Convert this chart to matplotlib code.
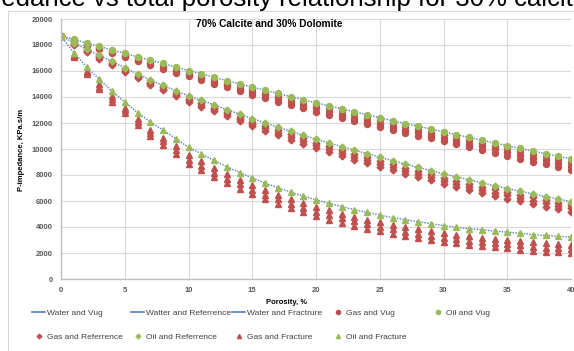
import matplotlib
matplotlib.use("Agg")
import matplotlib.pyplot as plt
from matplotlib.lines import Line2D

porosity = list(range(0, 41))

water_vug = [18700, 18440, 18150, 17900, 17620, 17360, 17090, 16840, 16580, 16300,
             16030, 15780, 15520, 15260, 15010, 14770, 14520, 14270, 14030, 13790,
             13560, 13320, 13100, 12860, 12640, 12400, 12180, 11960, 11750, 11540,
             11330, 11110, 10890, 10680, 10460, 10260, 10040, 9840, 9640, 9440, 9240]
water_ref = [18700, 18180, 17680, 17200, 16740, 16240, 15780, 15320, 14900, 14480,
             14080, 13740, 13400, 13030, 12690, 12340, 12020, 11680, 11370, 11060,
             10760, 10470, 10190, 9920, 9640, 9380, 9100, 8840, 8590, 8340,
             8080, 7870, 7630, 7400, 7180, 6960, 6760, 6550, 6340, 6150, 5960]
water_frac = [18700, 17410, 16330, 15360, 14440, 13620, 12800, 12080, 11460, 10800,
              10130, 9640, 9120, 8640, 8190, 7770, 7380, 7020, 6690, 6380,
              6090, 5820, 5570, 5340, 5120, 4920, 4720, 4560, 4410, 4260,
              4110, 3980, 3880, 3790, 3690, 3600, 3510, 3420, 3350, 3290, 3220]

oil_vug = water_vug
oil_ref = water_ref
oil_frac = water_frac

gas_vug = [
    [18700, 18400, 18090, 17820, 17530, 17260, 16980, 16720, 16450, 16160,
     15880, 15630, 15360, 15100, 14840, 14600, 14340, 14090, 13850, 13610,
     13370, 13130, 12910, 12670, 12450, 12200, 11980, 11760, 11550, 11340,
     11130, 10910, 10690, 10480, 10260, 10060, 9830, 9630, 9430, 9230, 9030],
    [18700, 18360, 18030, 17750, 17440, 17160, 16870, 16600, 16320, 16020,
     15730, 15470, 15190, 14920, 14650, 14400, 14130, 13870, 13620, 13370,
     13120, 12880, 12650, 12410, 12190, 11940, 11720, 11500, 11290, 11070,
     10860, 10640, 10410, 10200, 9970, 9770, 9540, 9340, 9130, 8930, 8720],
    [18700, 18320, 17970, 17670, 17350, 17060, 16760, 16480, 16190, 15880,
     15580, 15310, 15020, 14740, 14470, 14190, 13920, 13650, 13390, 13130,
     12870, 12620, 12400, 12150, 11930, 11680, 11460, 11240, 11020, 10810,
     10590, 10360, 10130, 9910, 9680, 9470, 9240, 9030, 8820, 8610, 8400],
]
gas_ref = [
    [18700, 18130, 17620, 17120, 16650, 16130, 15650, 15170, 14740, 14300,
     13880, 13530, 13190, 12810, 12470, 12110, 11780, 11440, 11120, 10810,
     10500, 10210, 9920, 9650, 9360, 9100, 8820, 8550, 8300, 8040,
     7780, 7570, 7340, 7110, 6890, 6680, 6480, 6270, 6060, 5880, 5690],
    [18700, 18080, 17550, 17040, 16550, 16020, 15540, 15060, 14620, 14180,
     13760, 13400, 13050, 12660, 12300, 11940, 11600, 11240, 10910, 10590,
     10270, 9980, 9690, 9420, 9130, 8870, 8590, 8320, 8070, 7810,
     7550, 7340, 7100, 6870, 6650, 6440, 6240, 6030, 5820, 5630, 5440],
    [18700, 18030, 17480, 16960, 16460, 15910, 15430, 14940, 14500, 14060,
     13630, 13260, 12900, 12500, 12130, 11760, 11410, 11040, 10700, 10370,
     10040, 9750, 9460, 9190, 8900, 8640, 8350, 8090, 7830, 7580,
     7310, 7100, 6860, 6630, 6410, 6190, 5980, 5770, 5560, 5370, 5180],
]
gas_frac = [
    [18700, 17210, 16020, 14980, 14040, 13180, 12290, 11500, 10870, 10200,
     9530, 9050, 8540, 8070, 7630, 7220, 6830, 6470, 6140, 5830,
     5540, 5270, 5010, 4780, 4550, 4350, 4140, 3980, 3820, 3670,
     3510, 3380, 3280, 3190, 3090, 3000, 2910, 2820, 2750, 2690, 2620],
    [18700, 17150, 15900, 14780, 13840, 12970, 12070, 11240, 10600, 9900,
     9180, 8700, 8190, 7720, 7280, 6870, 6480, 6120, 5790, 5480,
     5190, 4920, 4670, 4430, 4210, 4010, 3810, 3650, 3490, 3340,
     3190, 3060, 2960, 2870, 2770, 2680, 2580, 2490, 2420, 2360, 2290],
    [18700, 17090, 15770, 14590, 13650, 12750, 11850, 10980, 10340, 9600,
     8830, 8350, 7840, 7370, 6930, 6520, 6130, 5770, 5440, 5130,
     4840, 4570, 4320, 4090, 3870, 3680, 3480, 3320, 3170, 3020,
     2870, 2740, 2640, 2550, 2450, 2350, 2260, 2170, 2100, 2040, 1970],
]

x_ticks = [0, 5, 10, 15, 20, 25, 30, 35, 40]
y_ticks = list(range(0, 20001, 2000))

BLUE = "#4F81BD"
RED = "#C0504D"
GREEN = "#9BBB59"
GRID = "#D9D9D9"
TXT = "#595959"

plt.rcParams["font.family"] = ["Liberation Sans", "DejaVu Sans"]

W, H = 574, 351
fig = plt.figure(figsize=(W / 100, H / 100), dpi=100)
ax = fig.add_axes([61 / W, 1 - 279 / H, (571 - 61) / W, (279 - 19) / H])

# chart area border
fig.add_artist(Line2D([8 / W, 1.0], [1 - 10.5 / H, 1 - 10.5 / H], transform=fig.transFigure,
                      color=GRID, lw=0.8))
fig.add_artist(Line2D([8 / W, 8 / W], [0, 1 - 10.5 / H], transform=fig.transFigure,
                      color=GRID, lw=0.8))

# big page title above the chart, clipped by the figure edge as in the reference
fig.text(587 / W, 1 - 6 / H, "P-impedance vs total porosity relationship for 30% calcite",
         ha="right", va="baseline", fontsize=18.5, color="black")

ms = 4.3
ax.plot(porosity, water_vug, ls=(0, (1, 1)), color=BLUE, lw=1.0, label="Water and Vug")
ax.plot(porosity, water_ref, ls=(0, (1, 1)), color=BLUE, lw=1.0, label="Watter and Referrence")
ax.plot(porosity, water_frac, ls=(0, (1, 1)), color=BLUE, lw=1.0, label="Water and Fractrure")

for lvl in gas_vug:
    ax.plot(porosity, lvl, ls="none", marker="o", ms=ms, color=RED, mec=RED, label="Gas and Vug")
for lvl in gas_ref:
    ax.plot(porosity, lvl, ls="none", marker="D", ms=ms * 0.8, color=RED, mec=RED, label="Gas and Referrence")
for lvl in gas_frac:
    ax.plot(porosity, lvl, ls="none", marker="^", ms=ms, color=RED, mec=RED, label="Gas and Fracture")

ax.plot(porosity, oil_vug, ls="none", marker="o", ms=ms, color=GREEN, mec=GREEN, label="Oil and Vug")
ax.plot(porosity, oil_ref, ls="none", marker="D", ms=ms * 0.8, color=GREEN, mec=GREEN, label="Oil and Referrence")
ax.plot(porosity, oil_frac, ls="none", marker="^", ms=ms, color=GREEN, mec=GREEN, label="Oil and Fracture")

ax.set_xlim(0, 40)
ax.set_ylim(0, 20000)
ax.set_xticks(x_ticks)
ax.set_yticks(y_ticks)
ax.set_xticklabels([str(v) for v in x_ticks])
ax.set_yticklabels([str(v) for v in y_ticks])
ax.tick_params(length=0, labelsize=5.5, labelcolor=TXT, pad=6)
for lab in ax.get_xticklabels() + ax.get_yticklabels():
    lab.set_fontweight("bold")
ax.grid(True, color=GRID, lw=0.8)
ax.set_axisbelow(True)
for s in ["top", "right"]:
    ax.spines[s].set_visible(False)
for s in ["left", "bottom"]:
    ax.spines[s].set_color("#BFBFBF")
    ax.spines[s].set_linewidth(1.0)

fig.text(269 / W, 1 - 24 / H, "70% Calcite and 30% Dolomite", ha="center", va="center",
         fontsize=7.3, fontweight="bold", color="black")
fig.text(287 / W, 1 - 302 / H, "Porosity, %", ha="center", va="center",
         fontsize=5.5, fontweight="bold", color="black")
fig.text(22 / W, 1 - 150 / H, "P-impedance, KPa.s/m", ha="center", va="center", rotation=90,
         fontsize=5.5, fontweight="bold", color="black")

def mk(h, m=None, sz=3.0):
    if m is None:
        return Line2D([], [], color=BLUE, lw=1.2)
    return Line2D([], [], ls="none", marker=m, ms=sz, color=h, mec=h)

columns = [
    [(mk(None), "Water and Vug"), (mk(RED, "D", 2.4), "Gas and Referrence")],
    [(mk(None), "Watter and Referrence"), (mk(GREEN, "D", 2.4), "Oil and Referrence")],
    [(mk(None), "Water and Fractrure"), (mk(RED, "^", 3.0), "Gas and Fracture")],
    [(mk(RED, "o", 3.0), "Gas and Vug"), (mk(GREEN, "^", 3.0), "Oil and Fracture")],
    [(mk(GREEN, "o", 3.0), "Oil and Vug")],
]
col_x = [32, 131, 232, 331, 431]
for cx, entries in zip(col_x, columns):
    leg = fig.legend([e[0] for e in entries], [e[1] for e in entries],
                     loc="upper left", bbox_to_anchor=(cx / W, 1 - 309 / H),
                     frameon=False, fontsize=6, borderpad=0, borderaxespad=0,
                     handlelength=1.6, handletextpad=0.15, labelspacing=2.0,
                     numpoints=1)
    for t in leg.get_texts():
        t.set_color("#404040")

fig.savefig("out.png", dpi=100)
